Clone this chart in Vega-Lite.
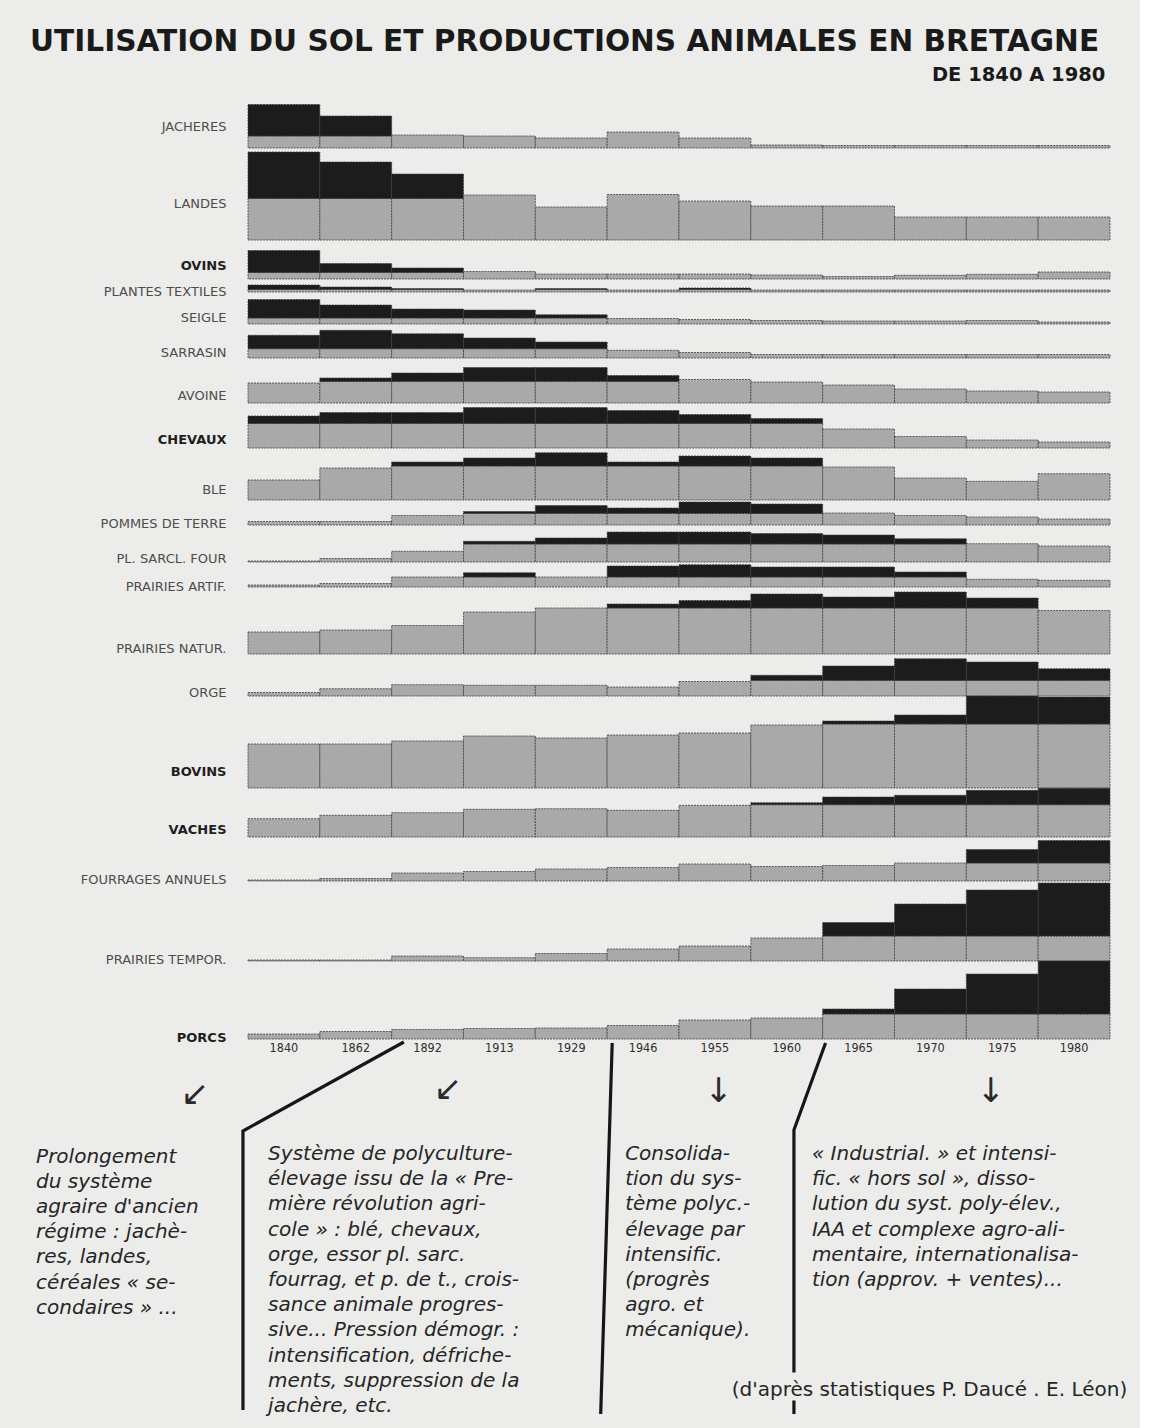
{
 "$schema": "https://vega.github.io/schema/vega-lite/v6.json",
 "background": "#ececea",
 "padding": {"left": 30, "top": 26, "right": 12, "bottom": 8},
 "title": {"text": "UTILISATION DU SOL ET PRODUCTIONS ANIMALES EN BRETAGNE", "anchor": "start", "font": "DejaVu Sans", "fontSize": 29.6, "fontWeight": "bold", "color": "#1a1a1a", "baseline": "alphabetic", "offset": -15.5, "dx": -6},
 "datasets": {
  "cells": [
   {"r":"JACHERES","p":"1840","h":12,"n":31.5},{"r":"JACHERES","p":"1862","h":12,"n":20},{"r":"JACHERES","p":"1892","h":13},{"r":"JACHERES","p":"1913","h":12},{"r":"JACHERES","p":"1929","h":10},{"r":"JACHERES","p":"1946","h":16},{"r":"JACHERES","p":"1955","h":10},{"r":"JACHERES","p":"1960","h":3},{"r":"JACHERES","p":"1965","h":2.5},{"r":"JACHERES","p":"1970","h":2.5},{"r":"JACHERES","p":"1975","h":2.5},{"r":"JACHERES","p":"1980","h":2.5},
   {"r":"LANDES","p":"1840","h":41.5,"n":46.5},{"r":"LANDES","p":"1862","h":41.5,"n":36.5},{"r":"LANDES","p":"1892","h":41.5,"n":24.5},{"r":"LANDES","p":"1913","h":45},{"r":"LANDES","p":"1929","h":33},{"r":"LANDES","p":"1946","h":45.5},{"r":"LANDES","p":"1955","h":39},{"r":"LANDES","p":"1960","h":34},{"r":"LANDES","p":"1965","h":34},{"r":"LANDES","p":"1970","h":23},{"r":"LANDES","p":"1975","h":23},{"r":"LANDES","p":"1980","h":23},
   {"r":"OVINS","p":"1840","h":6.5,"n":22},{"r":"OVINS","p":"1862","h":6.5,"n":9},{"r":"OVINS","p":"1892","h":6.5,"n":4.5},{"r":"OVINS","p":"1913","h":7.5},{"r":"OVINS","p":"1929","h":5},{"r":"OVINS","p":"1946","h":5},{"r":"OVINS","p":"1955","h":5},{"r":"OVINS","p":"1960","h":4},{"r":"OVINS","p":"1965","h":2.5},{"r":"OVINS","p":"1970","h":3.7},{"r":"OVINS","p":"1975","h":4.7},{"r":"OVINS","p":"1980","h":7},
   {"r":"PLANTES TEXTILES","p":"1840","h":2.5,"n":4.5},{"r":"PLANTES TEXTILES","p":"1862","h":2.5,"n":2.5},{"r":"PLANTES TEXTILES","p":"1892","h":2.5,"n":1},{"r":"PLANTES TEXTILES","p":"1913","h":2},{"r":"PLANTES TEXTILES","p":"1929","h":2.5,"n":1},{"r":"PLANTES TEXTILES","p":"1946","h":2},{"r":"PLANTES TEXTILES","p":"1955","h":2.5,"n":1.5},{"r":"PLANTES TEXTILES","p":"1960","h":2},{"r":"PLANTES TEXTILES","p":"1965","h":2},{"r":"PLANTES TEXTILES","p":"1970","h":2},{"r":"PLANTES TEXTILES","p":"1975","h":2},{"r":"PLANTES TEXTILES","p":"1980","h":2},
   {"r":"SEIGLE","p":"1840","h":6,"n":18.5},{"r":"SEIGLE","p":"1862","h":6,"n":13},{"r":"SEIGLE","p":"1892","h":6,"n":9},{"r":"SEIGLE","p":"1913","h":6,"n":8},{"r":"SEIGLE","p":"1929","h":6,"n":3.3},{"r":"SEIGLE","p":"1946","h":5.5},{"r":"SEIGLE","p":"1955","h":4.5},{"r":"SEIGLE","p":"1960","h":3.5},{"r":"SEIGLE","p":"1965","h":3},{"r":"SEIGLE","p":"1970","h":3},{"r":"SEIGLE","p":"1975","h":3.5},{"r":"SEIGLE","p":"1980","h":2},
   {"r":"SARRASIN","p":"1840","h":9.3,"n":13.4},{"r":"SARRASIN","p":"1862","h":9.3,"n":18.4},{"r":"SARRASIN","p":"1892","h":9.3,"n":15},{"r":"SARRASIN","p":"1913","h":9.3,"n":10.7},{"r":"SARRASIN","p":"1929","h":9.3,"n":6.7},{"r":"SARRASIN","p":"1946","h":7.7},{"r":"SARRASIN","p":"1955","h":5.5},{"r":"SARRASIN","p":"1960","h":3.5},{"r":"SARRASIN","p":"1965","h":3.5},{"r":"SARRASIN","p":"1970","h":3.5},{"r":"SARRASIN","p":"1975","h":3.5},{"r":"SARRASIN","p":"1980","h":3.5},
   {"r":"AVOINE","p":"1840","h":20},{"r":"AVOINE","p":"1862","h":21.5,"n":3.5},{"r":"AVOINE","p":"1892","h":21.5,"n":8.5},{"r":"AVOINE","p":"1913","h":21.5,"n":14},{"r":"AVOINE","p":"1929","h":21.5,"n":14},{"r":"AVOINE","p":"1946","h":21.5,"n":6},{"r":"AVOINE","p":"1955","h":23.5},{"r":"AVOINE","p":"1960","h":21},{"r":"AVOINE","p":"1965","h":18},{"r":"AVOINE","p":"1970","h":14},{"r":"AVOINE","p":"1975","h":12},{"r":"AVOINE","p":"1980","h":11},
   {"r":"CHEVAUX","p":"1840","h":24.5,"n":7.5},{"r":"CHEVAUX","p":"1862","h":24.5,"n":11},{"r":"CHEVAUX","p":"1892","h":24.5,"n":11},{"r":"CHEVAUX","p":"1913","h":24.5,"n":16},{"r":"CHEVAUX","p":"1929","h":24.5,"n":16},{"r":"CHEVAUX","p":"1946","h":24.5,"n":13},{"r":"CHEVAUX","p":"1955","h":24.5,"n":9},{"r":"CHEVAUX","p":"1960","h":24.5,"n":5},{"r":"CHEVAUX","p":"1965","h":19},{"r":"CHEVAUX","p":"1970","h":11.5},{"r":"CHEVAUX","p":"1975","h":8},{"r":"CHEVAUX","p":"1980","h":6},
   {"r":"BLE","p":"1840","h":20},{"r":"BLE","p":"1862","h":32},{"r":"BLE","p":"1892","h":34,"n":4},{"r":"BLE","p":"1913","h":34,"n":8},{"r":"BLE","p":"1929","h":34,"n":13.3},{"r":"BLE","p":"1946","h":34,"n":4},{"r":"BLE","p":"1955","h":34,"n":10},{"r":"BLE","p":"1960","h":34,"n":8},{"r":"BLE","p":"1965","h":33},{"r":"BLE","p":"1970","h":22},{"r":"BLE","p":"1975","h":18.7},{"r":"BLE","p":"1980","h":26.3},
   {"r":"POMMES DE TERRE","p":"1840","h":3.5},{"r":"POMMES DE TERRE","p":"1862","h":3.5},{"r":"POMMES DE TERRE","p":"1892","h":9.5},{"r":"POMMES DE TERRE","p":"1913","h":11.5,"n":2},{"r":"POMMES DE TERRE","p":"1929","h":11.5,"n":8},{"r":"POMMES DE TERRE","p":"1946","h":11.5,"n":5.5},{"r":"POMMES DE TERRE","p":"1955","h":11.5,"n":11.5},{"r":"POMMES DE TERRE","p":"1960","h":11.5,"n":9.5},{"r":"POMMES DE TERRE","p":"1965","h":12},{"r":"POMMES DE TERRE","p":"1970","h":9.5},{"r":"POMMES DE TERRE","p":"1975","h":8},{"r":"POMMES DE TERRE","p":"1980","h":6},
   {"r":"PL. SARCL. FOUR","p":"1840","h":1},{"r":"PL. SARCL. FOUR","p":"1862","h":3.5},{"r":"PL. SARCL. FOUR","p":"1892","h":10.7},{"r":"PL. SARCL. FOUR","p":"1913","h":18,"n":2.7},{"r":"PL. SARCL. FOUR","p":"1929","h":18,"n":6},{"r":"PL. SARCL. FOUR","p":"1946","h":18,"n":12},{"r":"PL. SARCL. FOUR","p":"1955","h":18,"n":12},{"r":"PL. SARCL. FOUR","p":"1960","h":18,"n":10.5},{"r":"PL. SARCL. FOUR","p":"1965","h":18,"n":9},{"r":"PL. SARCL. FOUR","p":"1970","h":18,"n":5.3},{"r":"PL. SARCL. FOUR","p":"1975","h":18.3},{"r":"PL. SARCL. FOUR","p":"1980","h":16},
   {"r":"PRAIRIES ARTIF.","p":"1840","h":2},{"r":"PRAIRIES ARTIF.","p":"1862","h":3.5},{"r":"PRAIRIES ARTIF.","p":"1892","h":10},{"r":"PRAIRIES ARTIF.","p":"1913","h":10,"n":4.3},{"r":"PRAIRIES ARTIF.","p":"1929","h":10},{"r":"PRAIRIES ARTIF.","p":"1946","h":10,"n":11},{"r":"PRAIRIES ARTIF.","p":"1955","h":10,"n":12.3},{"r":"PRAIRIES ARTIF.","p":"1960","h":10,"n":10},{"r":"PRAIRIES ARTIF.","p":"1965","h":10,"n":10},{"r":"PRAIRIES ARTIF.","p":"1970","h":10,"n":5},{"r":"PRAIRIES ARTIF.","p":"1975","h":7.7},{"r":"PRAIRIES ARTIF.","p":"1980","h":6.7},
   {"r":"PRAIRIES NATUR.","p":"1840","h":22},{"r":"PRAIRIES NATUR.","p":"1862","h":24},{"r":"PRAIRIES NATUR.","p":"1892","h":28.5},{"r":"PRAIRIES NATUR.","p":"1913","h":42},{"r":"PRAIRIES NATUR.","p":"1929","h":46},{"r":"PRAIRIES NATUR.","p":"1946","h":46,"n":4},{"r":"PRAIRIES NATUR.","p":"1955","h":46,"n":7.5},{"r":"PRAIRIES NATUR.","p":"1960","h":46,"n":14},{"r":"PRAIRIES NATUR.","p":"1965","h":46,"n":11},{"r":"PRAIRIES NATUR.","p":"1970","h":46,"n":16},{"r":"PRAIRIES NATUR.","p":"1975","h":46,"n":10},{"r":"PRAIRIES NATUR.","p":"1980","h":43.5},
   {"r":"ORGE","p":"1840","h":3.5},{"r":"ORGE","p":"1862","h":7.3},{"r":"ORGE","p":"1892","h":11.3},{"r":"ORGE","p":"1913","h":10.7},{"r":"ORGE","p":"1929","h":10.7},{"r":"ORGE","p":"1946","h":9},{"r":"ORGE","p":"1955","h":14.5},{"r":"ORGE","p":"1960","h":15.5,"n":5.2},{"r":"ORGE","p":"1965","h":15.5,"n":14.5},{"r":"ORGE","p":"1970","h":15.5,"n":21.8},{"r":"ORGE","p":"1975","h":15.5,"n":18.5},{"r":"ORGE","p":"1980","h":15.5,"n":11.8},
   {"r":"BOVINS","p":"1840","h":44},{"r":"BOVINS","p":"1862","h":44},{"r":"BOVINS","p":"1892","h":47},{"r":"BOVINS","p":"1913","h":52},{"r":"BOVINS","p":"1929","h":50},{"r":"BOVINS","p":"1946","h":53},{"r":"BOVINS","p":"1955","h":55},{"r":"BOVINS","p":"1960","h":63},{"r":"BOVINS","p":"1965","h":64,"n":3},{"r":"BOVINS","p":"1970","h":64,"n":9},{"r":"BOVINS","p":"1975","h":64,"n":28},{"r":"BOVINS","p":"1980","h":64,"n":27},
   {"r":"VACHES","p":"1840","h":18.3},{"r":"VACHES","p":"1862","h":21.7},{"r":"VACHES","p":"1892","h":24.3},{"r":"VACHES","p":"1913","h":27.7},{"r":"VACHES","p":"1929","h":28.3},{"r":"VACHES","p":"1946","h":26.7},{"r":"VACHES","p":"1955","h":31.7},{"r":"VACHES","p":"1960","h":32.3,"n":2},{"r":"VACHES","p":"1965","h":32.3,"n":7.7},{"r":"VACHES","p":"1970","h":32.3,"n":9.4},{"r":"VACHES","p":"1975","h":32.3,"n":14.4},{"r":"VACHES","p":"1980","h":32.3,"n":16.5},
   {"r":"FOURRAGES ANNUELS","p":"1840","h":1},{"r":"FOURRAGES ANNUELS","p":"1862","h":2.5},{"r":"FOURRAGES ANNUELS","p":"1892","h":8},{"r":"FOURRAGES ANNUELS","p":"1913","h":9.5},{"r":"FOURRAGES ANNUELS","p":"1929","h":12},{"r":"FOURRAGES ANNUELS","p":"1946","h":13.5},{"r":"FOURRAGES ANNUELS","p":"1955","h":17},{"r":"FOURRAGES ANNUELS","p":"1960","h":14.5},{"r":"FOURRAGES ANNUELS","p":"1965","h":15.5},{"r":"FOURRAGES ANNUELS","p":"1970","h":18},{"r":"FOURRAGES ANNUELS","p":"1975","h":18,"n":13.5},{"r":"FOURRAGES ANNUELS","p":"1980","h":18,"n":22.5},
   {"r":"PRAIRIES TEMPOR.","p":"1840","h":1},{"r":"PRAIRIES TEMPOR.","p":"1862","h":1},{"r":"PRAIRIES TEMPOR.","p":"1892","h":5},{"r":"PRAIRIES TEMPOR.","p":"1913","h":3.3},{"r":"PRAIRIES TEMPOR.","p":"1929","h":7.5},{"r":"PRAIRIES TEMPOR.","p":"1946","h":12},{"r":"PRAIRIES TEMPOR.","p":"1955","h":15},{"r":"PRAIRIES TEMPOR.","p":"1960","h":23},{"r":"PRAIRIES TEMPOR.","p":"1965","h":25,"n":13.5},{"r":"PRAIRIES TEMPOR.","p":"1970","h":25,"n":32},{"r":"PRAIRIES TEMPOR.","p":"1975","h":25,"n":46},{"r":"PRAIRIES TEMPOR.","p":"1980","h":25,"n":53},
   {"r":"PORCS","p":"1840","h":5},{"r":"PORCS","p":"1862","h":7.5},{"r":"PORCS","p":"1892","h":9.5},{"r":"PORCS","p":"1913","h":10.5},{"r":"PORCS","p":"1929","h":11},{"r":"PORCS","p":"1946","h":13.5},{"r":"PORCS","p":"1955","h":19},{"r":"PORCS","p":"1960","h":21},{"r":"PORCS","p":"1965","h":25,"n":5},{"r":"PORCS","p":"1970","h":25,"n":25},{"r":"PORCS","p":"1975","h":25,"n":40},{"r":"PORCS","p":"1980","h":25,"n":53}
  ],
  "traits": [
   {"trait":"A","k":0,"x":2.17,"y":-4.72},{"trait":"A","k":1,"x":-0.07,"y":-1.16},{"trait":"A","k":2,"x":-0.07,"y":10.0},
   {"trait":"B","k":0,"x":5.07,"y":-4.68},{"trait":"B","k":1,"x":4.91,"y":10.16},
   {"trait":"C","k":0,"x":8.04,"y":-4.68},{"trait":"C","k":1,"x":7.6,"y":-1.2},{"trait":"C","k":2,"x":7.6,"y":8.5},
   {"trait":"D","k":0,"x":7.6,"y":9.62},{"trait":"D","k":1,"x":7.6,"y":10.16}
  ],
  "fleches": [
   {"g":"↙","x":-0.74,"y":-2.6},{"g":"↙","x":2.78,"y":-2.8},{"g":"↓","x":6.55,"y":-2.72},{"g":"↓","x":10.34,"y":-2.72}
  ],
  "notes": [
   {"x":-2.95,"y":0.1,"t":"Prolongement\ndu  système\nagraire d'ancien\nrégime : jachè-\nres, landes,\ncéréales « se-\ncondaires » ..."},
   {"x":0.28,"y":0,"t":"Système de polyculture-\nélevage issu de la « Pre-\nmière révolution agri-\ncole » : blé, chevaux,\norge, essor pl. sarc.\nfourrag, et p. de t., crois-\nsance animale progres-\nsive... Pression démogr. :\nintensification, défriche-\nments, suppression de la\njachère, etc."},
   {"x":5.25,"y":0,"t":"Consolida-\ntion du sys-\ntème polyc.-\nélevage par\nintensific.\n(progrès\nagro. et\nmécanique)."},
   {"x":7.85,"y":0,"t":"« Industrial. » et intensi-\nfic. « hors sol », disso-\nlution du syst. poly-élev.,\nIAA et complexe agro-ali-\nmentaire, internationalisa-\ntion (approv. + ventes)..."}
  ],
  "source": [
   {"x":12.24,"y":9.44,"t":"(d'après statistiques P. Daucé . E. Léon)"}
  ]
 },
 "spacing": 0,
 "bounds": "flush",
 "resolve": {"scale": {"x": "independent", "y": "independent"}},
 "vconcat": [
  {"width": 862, "height": 46, "title": {"text": "DE 1840 A 1980", "anchor": "end", "font": "DejaVu Sans", "fontSize": 19.5, "fontWeight": "bold", "color": "#1a1a1a", "baseline": "alphabetic", "offset": 1.5, "dx": -5},
   "data": {"name": "cells"}, "transform": [{"filter": {"field": "r", "equal": "JACHERES"}}, {"fold": ["h", "n"], "as": ["part", "val"]}, {"filter": "datum.val > 0"}],
   "mark": "bar",
   "encoding": {"x": {"field": "p", "type": "ordinal", "sort": null, "axis": null}, "y": {"field": "val", "type": "quantitative", "stack": "zero", "scale": {"domain": [0, 46], "nice": false}, "axis": {"title": "JACHERES", "titleY": 24}}, "order": {"field": "part", "sort": "ascending"}, "color": {"field": "part", "type": "nominal", "scale": {"domain": ["h", "n"], "range": ["#a9a9a9", "#1c1c1c"]}, "legend": null}}},
  {"width": 862, "height": 92, "data": {"name": "cells"}, "transform": [{"filter": {"field": "r", "equal": "LANDES"}}, {"fold": ["h", "n"], "as": ["part", "val"]}, {"filter": "datum.val > 0"}],
   "mark": "bar",
   "encoding": {"x": {"field": "p", "type": "ordinal", "sort": null, "axis": null}, "y": {"field": "val", "type": "quantitative", "stack": "zero", "scale": {"domain": [0, 92], "nice": false}, "axis": {"title": "LANDES", "titleY": 55}}, "order": {"field": "part", "sort": "ascending"}, "color": {"field": "part", "type": "nominal", "scale": {"domain": ["h", "n"], "range": ["#a9a9a9", "#1c1c1c"]}, "legend": null}}},
  {"width": 862, "height": 39, "data": {"name": "cells"}, "transform": [{"filter": {"field": "r", "equal": "OVINS"}}, {"fold": ["h", "n"], "as": ["part", "val"]}, {"filter": "datum.val > 0"}],
   "mark": "bar",
   "encoding": {"x": {"field": "p", "type": "ordinal", "sort": null, "axis": null}, "y": {"field": "val", "type": "quantitative", "stack": "zero", "scale": {"domain": [0, 39], "nice": false}, "axis": {"title": "OVINS", "titleY": 25, "titleFontWeight": "bold", "titleColor": "#1e1e1e"}}, "order": {"field": "part", "sort": "ascending"}, "color": {"field": "part", "type": "nominal", "scale": {"domain": ["h", "n"], "range": ["#a9a9a9", "#1c1c1c"]}, "legend": null}}},
  {"width": 862, "height": 13, "data": {"name": "cells"}, "transform": [{"filter": {"field": "r", "equal": "PLANTES TEXTILES"}}, {"fold": ["h", "n"], "as": ["part", "val"]}, {"filter": "datum.val > 0"}],
   "mark": "bar",
   "encoding": {"x": {"field": "p", "type": "ordinal", "sort": null, "axis": null}, "y": {"field": "val", "type": "quantitative", "stack": "zero", "scale": {"domain": [0, 13], "nice": false}, "axis": {"title": "PLANTES TEXTILES", "titleY": 12}}, "order": {"field": "part", "sort": "ascending"}, "color": {"field": "part", "type": "nominal", "scale": {"domain": ["h", "n"], "range": ["#a9a9a9", "#1c1c1c"]}, "legend": null}}},
  {"width": 862, "height": 32, "data": {"name": "cells"}, "transform": [{"filter": {"field": "r", "equal": "SEIGLE"}}, {"fold": ["h", "n"], "as": ["part", "val"]}, {"filter": "datum.val > 0"}],
   "mark": "bar",
   "encoding": {"x": {"field": "p", "type": "ordinal", "sort": null, "axis": null}, "y": {"field": "val", "type": "quantitative", "stack": "zero", "scale": {"domain": [0, 32], "nice": false}, "axis": {"title": "SEIGLE", "titleY": 25}}, "order": {"field": "part", "sort": "ascending"}, "color": {"field": "part", "type": "nominal", "scale": {"domain": ["h", "n"], "range": ["#a9a9a9", "#1c1c1c"]}, "legend": null}}},
  {"width": 862, "height": 34, "data": {"name": "cells"}, "transform": [{"filter": {"field": "r", "equal": "SARRASIN"}}, {"fold": ["h", "n"], "as": ["part", "val"]}, {"filter": "datum.val > 0"}],
   "mark": "bar",
   "encoding": {"x": {"field": "p", "type": "ordinal", "sort": null, "axis": null}, "y": {"field": "val", "type": "quantitative", "stack": "zero", "scale": {"domain": [0, 34], "nice": false}, "axis": {"title": "SARRASIN", "titleY": 28}}, "order": {"field": "part", "sort": "ascending"}, "color": {"field": "part", "type": "nominal", "scale": {"domain": ["h", "n"], "range": ["#a9a9a9", "#1c1c1c"]}, "legend": null}}},
  {"width": 862, "height": 45, "data": {"name": "cells"}, "transform": [{"filter": {"field": "r", "equal": "AVOINE"}}, {"fold": ["h", "n"], "as": ["part", "val"]}, {"filter": "datum.val > 0"}],
   "mark": "bar",
   "encoding": {"x": {"field": "p", "type": "ordinal", "sort": null, "axis": null}, "y": {"field": "val", "type": "quantitative", "stack": "zero", "scale": {"domain": [0, 45], "nice": false}, "axis": {"title": "AVOINE", "titleY": 37}}, "order": {"field": "part", "sort": "ascending"}, "color": {"field": "part", "type": "nominal", "scale": {"domain": ["h", "n"], "range": ["#a9a9a9", "#1c1c1c"]}, "legend": null}}},
  {"width": 862, "height": 45, "data": {"name": "cells"}, "transform": [{"filter": {"field": "r", "equal": "CHEVAUX"}}, {"fold": ["h", "n"], "as": ["part", "val"]}, {"filter": "datum.val > 0"}],
   "mark": "bar",
   "encoding": {"x": {"field": "p", "type": "ordinal", "sort": null, "axis": null}, "y": {"field": "val", "type": "quantitative", "stack": "zero", "scale": {"domain": [0, 45], "nice": false}, "axis": {"title": "CHEVAUX", "titleY": 36, "titleFontWeight": "bold", "titleColor": "#1e1e1e"}}, "order": {"field": "part", "sort": "ascending"}, "color": {"field": "part", "type": "nominal", "scale": {"domain": ["h", "n"], "range": ["#a9a9a9", "#1c1c1c"]}, "legend": null}}},
  {"width": 862, "height": 52, "data": {"name": "cells"}, "transform": [{"filter": {"field": "r", "equal": "BLE"}}, {"fold": ["h", "n"], "as": ["part", "val"]}, {"filter": "datum.val > 0"}],
   "mark": "bar",
   "encoding": {"x": {"field": "p", "type": "ordinal", "sort": null, "axis": null}, "y": {"field": "val", "type": "quantitative", "stack": "zero", "scale": {"domain": [0, 52], "nice": false}, "axis": {"title": "BLE", "titleY": 41}}, "order": {"field": "part", "sort": "ascending"}, "color": {"field": "part", "type": "nominal", "scale": {"domain": ["h", "n"], "range": ["#a9a9a9", "#1c1c1c"]}, "legend": null}}},
  {"width": 862, "height": 25, "data": {"name": "cells"}, "transform": [{"filter": {"field": "r", "equal": "POMMES DE TERRE"}}, {"fold": ["h", "n"], "as": ["part", "val"]}, {"filter": "datum.val > 0"}],
   "mark": "bar",
   "encoding": {"x": {"field": "p", "type": "ordinal", "sort": null, "axis": null}, "y": {"field": "val", "type": "quantitative", "stack": "zero", "scale": {"domain": [0, 25], "nice": false}, "axis": {"title": "POMMES DE TERRE", "titleY": 23}}, "order": {"field": "part", "sort": "ascending"}, "color": {"field": "part", "type": "nominal", "scale": {"domain": ["h", "n"], "range": ["#a9a9a9", "#1c1c1c"]}, "legend": null}}},
  {"width": 862, "height": 37, "data": {"name": "cells"}, "transform": [{"filter": {"field": "r", "equal": "PL. SARCL. FOUR"}}, {"fold": ["h", "n"], "as": ["part", "val"]}, {"filter": "datum.val > 0"}],
   "mark": "bar",
   "encoding": {"x": {"field": "p", "type": "ordinal", "sort": null, "axis": null}, "y": {"field": "val", "type": "quantitative", "stack": "zero", "scale": {"domain": [0, 37], "nice": false}, "axis": {"title": "PL. SARCL. FOUR", "titleY": 33}}, "order": {"field": "part", "sort": "ascending"}, "color": {"field": "part", "type": "nominal", "scale": {"domain": ["h", "n"], "range": ["#a9a9a9", "#1c1c1c"]}, "legend": null}}},
  {"width": 862, "height": 25, "data": {"name": "cells"}, "transform": [{"filter": {"field": "r", "equal": "PRAIRIES ARTIF."}}, {"fold": ["h", "n"], "as": ["part", "val"]}, {"filter": "datum.val > 0"}],
   "mark": "bar",
   "encoding": {"x": {"field": "p", "type": "ordinal", "sort": null, "axis": null}, "y": {"field": "val", "type": "quantitative", "stack": "zero", "scale": {"domain": [0, 25], "nice": false}, "axis": {"title": "PRAIRIES ARTIF.", "titleY": 24}}, "order": {"field": "part", "sort": "ascending"}, "color": {"field": "part", "type": "nominal", "scale": {"domain": ["h", "n"], "range": ["#a9a9a9", "#1c1c1c"]}, "legend": null}}},
  {"width": 862, "height": 67, "data": {"name": "cells"}, "transform": [{"filter": {"field": "r", "equal": "PRAIRIES NATUR."}}, {"fold": ["h", "n"], "as": ["part", "val"]}, {"filter": "datum.val > 0"}],
   "mark": "bar",
   "encoding": {"x": {"field": "p", "type": "ordinal", "sort": null, "axis": null}, "y": {"field": "val", "type": "quantitative", "stack": "zero", "scale": {"domain": [0, 67], "nice": false}, "axis": {"title": "PRAIRIES NATUR.", "titleY": 61}}, "order": {"field": "part", "sort": "ascending"}, "color": {"field": "part", "type": "nominal", "scale": {"domain": ["h", "n"], "range": ["#a9a9a9", "#1c1c1c"]}, "legend": null}}},
  {"width": 862, "height": 42, "data": {"name": "cells"}, "transform": [{"filter": {"field": "r", "equal": "ORGE"}}, {"fold": ["h", "n"], "as": ["part", "val"]}, {"filter": "datum.val > 0"}],
   "mark": "bar",
   "encoding": {"x": {"field": "p", "type": "ordinal", "sort": null, "axis": null}, "y": {"field": "val", "type": "quantitative", "stack": "zero", "scale": {"domain": [0, 42], "nice": false}, "axis": {"title": "ORGE", "titleY": 38}}, "order": {"field": "part", "sort": "ascending"}, "color": {"field": "part", "type": "nominal", "scale": {"domain": ["h", "n"], "range": ["#a9a9a9", "#1c1c1c"]}, "legend": null}}},
  {"width": 862, "height": 92, "data": {"name": "cells"}, "transform": [{"filter": {"field": "r", "equal": "BOVINS"}}, {"fold": ["h", "n"], "as": ["part", "val"]}, {"filter": "datum.val > 0"}],
   "mark": "bar",
   "encoding": {"x": {"field": "p", "type": "ordinal", "sort": null, "axis": null}, "y": {"field": "val", "type": "quantitative", "stack": "zero", "scale": {"domain": [0, 92], "nice": false}, "axis": {"title": "BOVINS", "titleY": 75, "titleFontWeight": "bold", "titleColor": "#1e1e1e"}}, "order": {"field": "part", "sort": "ascending"}, "color": {"field": "part", "type": "nominal", "scale": {"domain": ["h", "n"], "range": ["#a9a9a9", "#1c1c1c"]}, "legend": null}}},
  {"width": 862, "height": 49, "data": {"name": "cells"}, "transform": [{"filter": {"field": "r", "equal": "VACHES"}}, {"fold": ["h", "n"], "as": ["part", "val"]}, {"filter": "datum.val > 0"}],
   "mark": "bar",
   "encoding": {"x": {"field": "p", "type": "ordinal", "sort": null, "axis": null}, "y": {"field": "val", "type": "quantitative", "stack": "zero", "scale": {"domain": [0, 49], "nice": false}, "axis": {"title": "VACHES", "titleY": 41, "titleFontWeight": "bold", "titleColor": "#1e1e1e"}}, "order": {"field": "part", "sort": "ascending"}, "color": {"field": "part", "type": "nominal", "scale": {"domain": ["h", "n"], "range": ["#a9a9a9", "#1c1c1c"]}, "legend": null}}},
  {"width": 862, "height": 44, "data": {"name": "cells"}, "transform": [{"filter": {"field": "r", "equal": "FOURRAGES ANNUELS"}}, {"fold": ["h", "n"], "as": ["part", "val"]}, {"filter": "datum.val > 0"}],
   "mark": "bar",
   "encoding": {"x": {"field": "p", "type": "ordinal", "sort": null, "axis": null}, "y": {"field": "val", "type": "quantitative", "stack": "zero", "scale": {"domain": [0, 44], "nice": false}, "axis": {"title": "FOURRAGES ANNUELS", "titleY": 42}}, "order": {"field": "part", "sort": "ascending"}, "color": {"field": "part", "type": "nominal", "scale": {"domain": ["h", "n"], "range": ["#a9a9a9", "#1c1c1c"]}, "legend": null}}},
  {"width": 862, "height": 80, "data": {"name": "cells"}, "transform": [{"filter": {"field": "r", "equal": "PRAIRIES TEMPOR."}}, {"fold": ["h", "n"], "as": ["part", "val"]}, {"filter": "datum.val > 0"}],
   "mark": "bar",
   "encoding": {"x": {"field": "p", "type": "ordinal", "sort": null, "axis": null}, "y": {"field": "val", "type": "quantitative", "stack": "zero", "scale": {"domain": [0, 80], "nice": false}, "axis": {"title": "PRAIRIES TEMPOR.", "titleY": 78}}, "order": {"field": "part", "sort": "ascending"}, "color": {"field": "part", "type": "nominal", "scale": {"domain": ["h", "n"], "range": ["#a9a9a9", "#1c1c1c"]}, "legend": null}}},
  {"width": 862, "height": 78, "data": {"name": "cells"}, "transform": [{"filter": {"field": "r", "equal": "PORCS"}}, {"fold": ["h", "n"], "as": ["part", "val"]}, {"filter": "datum.val > 0"}],
   "mark": "bar",
   "encoding": {"x": {"field": "p", "type": "ordinal", "sort": null, "axis": {"title": null, "labelFont": "DejaVu Sans Condensed", "labelFontSize": 12.5, "labelColor": "#2e2e2e", "labelPadding": 2, "ticks": false, "domain": false, "labelAngle": 0}}, "y": {"field": "val", "type": "quantitative", "stack": "zero", "scale": {"domain": [0, 78], "nice": false}, "axis": {"title": "PORCS", "titleY": 76, "titleFontWeight": "bold", "titleColor": "#1e1e1e"}}, "order": {"field": "part", "sort": "ascending"}, "color": {"field": "part", "type": "nominal", "scale": {"domain": ["h", "n"], "range": ["#a9a9a9", "#1c1c1c"]}, "legend": null}}},
  {"width": 862, "height": 378,
   "encoding": {"x": {"field": "x", "type": "quantitative", "scale": {"domain": [0, 12], "nice": false, "zero": false}, "axis": null}, "y": {"field": "y", "type": "quantitative", "scale": {"domain": [-4.84, 10.28], "nice": false, "zero": false, "reverse": true}, "axis": null}},
   "layer": [
    {"data": {"name": "traits"}, "mark": {"type": "line", "color": "#161616", "strokeWidth": 3.2, "strokeJoin": "miter", "strokeCap": "butt"}, "encoding": {"detail": {"field": "trait"}, "order": {"field": "k", "type": "quantitative"}}},
    {"data": {"name": "fleches"}, "mark": {"type": "text", "font": "DejaVu Sans", "fontSize": 34, "align": "center", "baseline": "middle", "color": "#2a2a2a"}, "encoding": {"text": {"field": "g"}}},
    {"data": {"name": "notes"}, "mark": {"type": "text", "font": "DejaVu Sans", "fontSize": 20, "fontStyle": "italic", "align": "left", "baseline": "alphabetic", "lineBreak": "\n", "lineHeight": 25.2, "color": "#262626"}, "encoding": {"text": {"field": "t"}}},
    {"data": {"name": "source"}, "mark": {"type": "text", "font": "DejaVu Sans", "fontSize": 20, "align": "right", "baseline": "alphabetic", "color": "#262626"}, "encoding": {"text": {"field": "t"}}}
   ]}
 ],
 "config": {
  "view": {"stroke": null},
  "scale": {"bandPaddingInner": 0, "bandPaddingOuter": 0},
  "axisY": {"labels": false, "ticks": false, "domain": false, "grid": false, "titleAngle": 0, "titleAlign": "right", "titleBaseline": "middle", "titlePadding": 22, "titleFont": "DejaVu Sans", "titleFontSize": 13, "titleFontWeight": "normal", "titleColor": "#4d4d4d"},
  "bar": {"stroke": "#3c3c3c", "strokeWidth": 0.8, "strokeDash": [2, 1]}
 }
}
